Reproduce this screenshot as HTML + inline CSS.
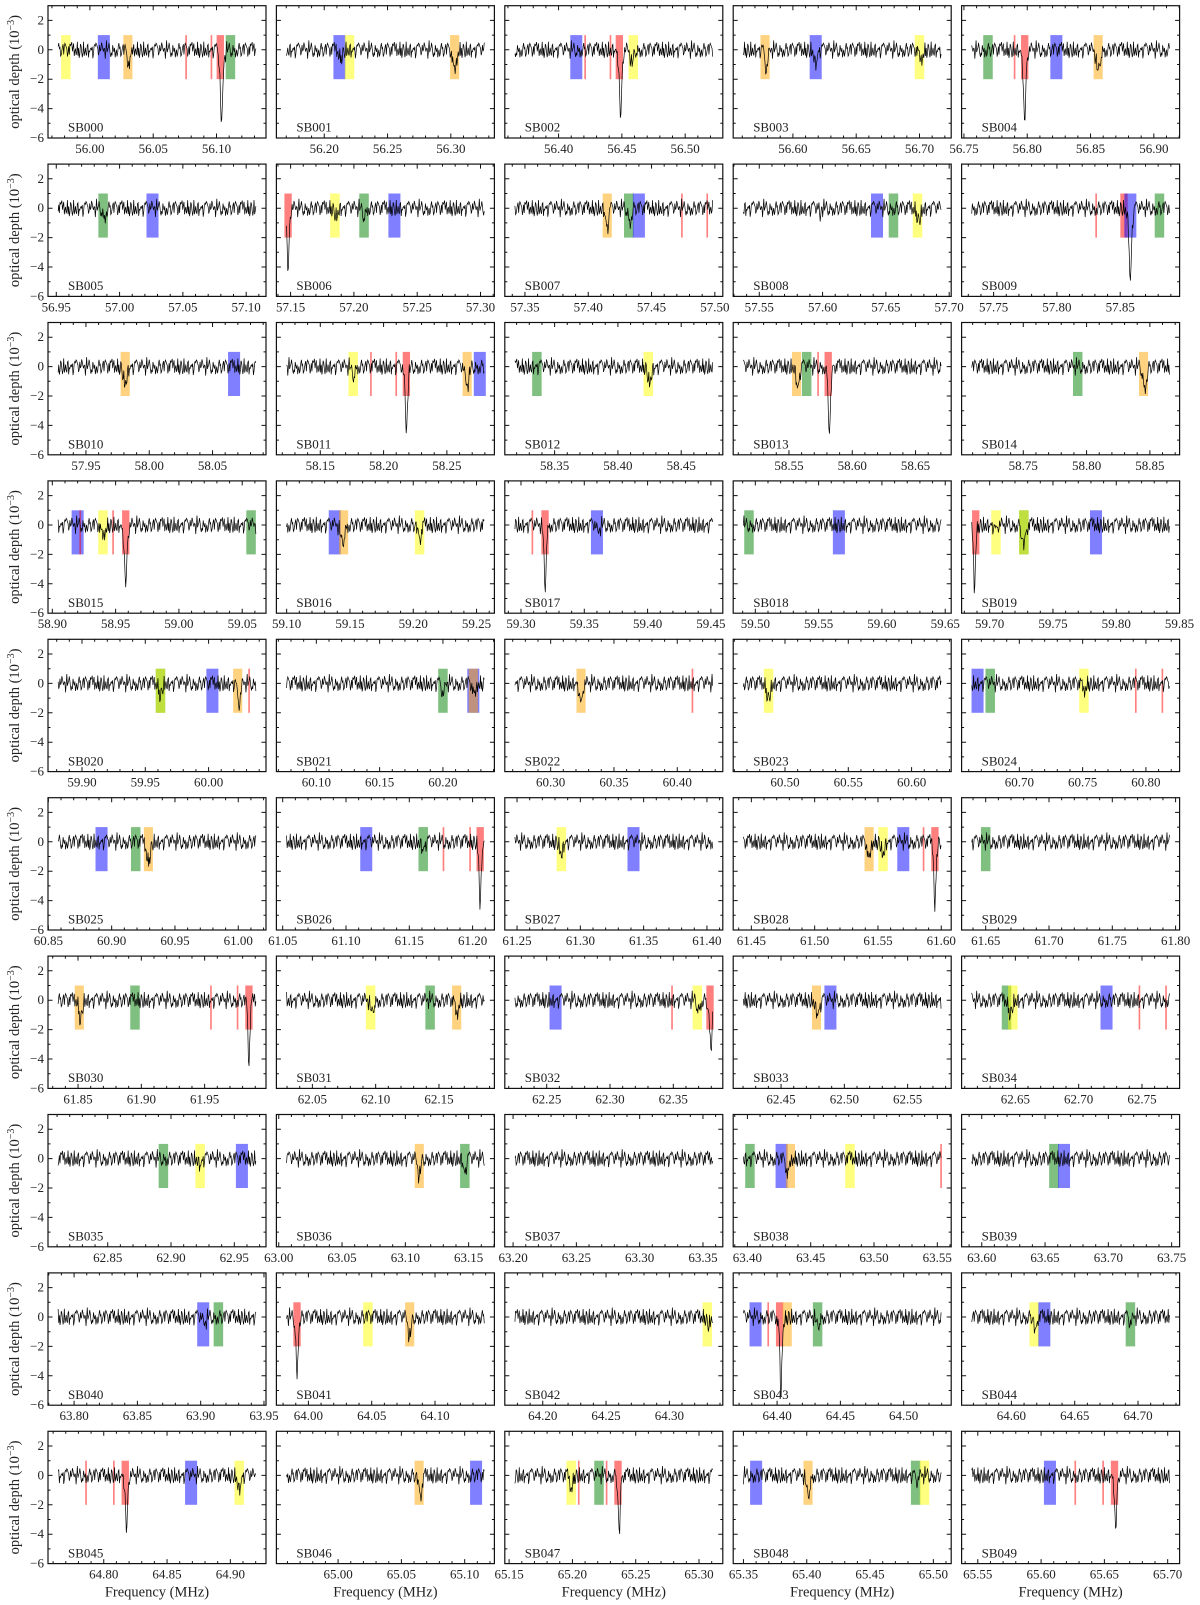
<!DOCTYPE html>
<html><head><meta charset="utf-8"><style>
html,body{margin:0;padding:0;background:#fff;}
svg{display:block;font-family:"Liberation Serif",serif;}
</style></head><body>
<svg id="chart" width="1200" height="1605" viewBox="0 0 1200 1605" xmlns="http://www.w3.org/2000/svg"></svg>
<script>
// ---- data ----
const subbandNames = Array.from({length:50},(_,k)=>'SB'+String(k).padStart(3,'0'));
const firstCenterMHz = 56.053;
const subbandStepMHz = 0.1953125;
const yTicks = [2,0,-2,-4,-6];
const bands = [
[[55.981,'y'],[56.011,'b'],[56.030,'o'],[56.076,'r1'],[56.096,'r1'],[56.103,'r'],[56.111,'g']],
[[56.212,'b'],[56.220,'y'],[56.303,'o']],
[[56.414,'b'],[56.421,'r1'],[56.441,'r1'],[56.448,'r'],[56.459,'y']],
[[56.578,'o'],[56.618,'b'],[56.700,'y']],
[[56.769,'g'],[56.790,'r1'],[56.798,'r'],[56.823,'b'],[56.856,'o']],
[[56.987,'g'],[57.026,'b']],
[[57.148,'r'],[57.185,'y'],[57.208,'g'],[57.232,'b']],
[[57.415,'o'],[57.432,'g'],[57.440,'b'],[57.474,'r1'],[57.494,'r1']],
[[57.643,'b'],[57.656,'g'],[57.675,'y']],
[[57.831,'r1'],[57.853,'r'],[57.858,'b'],[57.881,'g']],
[[57.981,'o'],[58.067,'b']],
[[58.176,'y'],[58.190,'r1'],[58.210,'r1'],[58.218,'r'],[58.266,'o'],[58.276,'b']],
[[58.336,'g'],[58.424,'y']],
[[58.556,'o'],[58.564,'g'],[58.573,'r1'],[58.581,'r']],
[[58.793,'g'],[58.845,'o']],
[[58.920,'b'],[58.922,'r1'],[58.940,'y'],[58.948,'r1'],[58.958,'r'],[59.057,'g']],
[[59.138,'b'],[59.145,'o'],[59.205,'y']],
[[59.309,'r1'],[59.319,'r'],[59.360,'b']],
[[59.495,'g'],[59.566,'b']],
[[59.689,'r'],[59.705,'y'],[59.727,'g'],[59.727,'y'],[59.784,'b']],
[[59.962,'g'],[59.962,'y'],[60.003,'b'],[60.023,'o'],[60.032,'r1']],
[[60.200,'g'],[60.224,'b'],[60.224,'o']],
[[60.324,'o'],[60.412,'r1']],
[[60.487,'y']],
[[60.667,'b'],[60.677,'g'],[60.751,'y'],[60.792,'r1'],[60.813,'r1']],
[[60.892,'b'],[60.919,'g'],[60.929,'o']],
[[61.116,'b'],[61.161,'g'],[61.177,'r1'],[61.198,'r1'],[61.206,'r']],
[[61.285,'y'],[61.342,'b']],
[[61.543,'o'],[61.554,'y'],[61.570,'b'],[61.586,'r1'],[61.595,'r']],
[[61.650,'g']],
[[61.851,'o'],[61.895,'g'],[61.955,'r1'],[61.976,'r1'],[61.985,'r']],
[[62.096,'y'],[62.143,'g'],[62.164,'o']],
[[62.257,'b'],[62.349,'r1'],[62.369,'y'],[62.379,'r']],
[[62.478,'o'],[62.489,'b']],
[[62.643,'g'],[62.648,'y'],[62.722,'b'],[62.748,'r1'],[62.769,'r1']],
[[62.894,'g'],[62.923,'y'],[62.956,'b']],
[[63.111,'o'],[63.147,'g']],
[],
[[63.402,'g'],[63.427,'b'],[63.434,'o'],[63.481,'y'],[63.553,'r1']],
[[63.657,'g'],[63.665,'b']],
[[63.902,'b'],[63.914,'g']],
[[63.991,'r'],[64.047,'y'],[64.080,'o']],
[[64.330,'y']],
[[64.383,'b'],[64.393,'r1'],[64.402,'r'],[64.408,'o'],[64.432,'g']],
[[64.618,'y'],[64.626,'b'],[64.694,'g']],
[[64.786,'r1'],[64.808,'r1'],[64.817,'r'],[64.869,'b'],[64.907,'y']],
[[65.064,'o'],[65.109,'b']],
[[65.199,'y'],[65.205,'r1'],[65.221,'g'],[65.227,'r1'],[65.236,'r']],
[[65.360,'b'],[65.401,'o'],[65.486,'g'],[65.493,'y']],
[[65.607,'b'],[65.627,'r1'],[65.649,'r1'],[65.658,'r']]
];
const dips = [
[[56.031,-1.0,.0015],[56.104,-2.0,.0015],[56.104,-3.3,.0007]],
[[56.303,-1.6,.0014],[56.213,-0.5,.0015]],
[[56.449,-1.5,.0015],[56.449,-3.6,.0007],[56.458,-1.0,.0012]],
[[56.579,-1.4,.0012],[56.618,-0.9,.0012],[56.701,-0.8,.0014]],
[[56.798,-1.8,.0015],[56.798,-3.5,.0007],[56.856,-1.5,.0014]],
[[56.988,-0.6,.0012]],
[[57.148,-1.8,.0012],[57.148,-3.0,.0006],[57.186,-0.5,.0012],[57.208,-0.5,.0012]],
[[57.415,-1.3,.0012],[57.433,-0.9,.0012]],
[[57.676,-0.8,.0014],[57.598,-1.0,.0004]],
[[57.858,-1.8,.0015],[57.858,-3.2,.0007]],
[[57.981,-1.1,.0014]],
[[58.218,-1.5,.0015],[58.218,-3.0,.0007],[58.266,-1.3,.0015],[58.176,-0.6,.0012]],
[[58.425,-1.0,.0014]],
[[58.557,-1.4,.0012],[58.582,-1.6,.0015],[58.582,-2.9,.0007]],
[[58.846,-1.4,.0014]],
[[58.940,-0.9,.0015],[58.958,-1.8,.0015],[58.958,-2.7,.0007]],
[[59.144,-1.2,.0015],[59.205,-1.0,.0014]],
[[59.319,-1.6,.0012],[59.319,-2.9,.0006],[59.361,-0.5,.0012]],
[],
[[59.688,-1.6,.0012],[59.688,-2.8,.0006],[59.727,-1.4,.0015],[59.705,-0.5,.0012]],
[[59.962,-0.8,.0012],[60.024,-1.5,.0012]],
[[60.200,-0.8,.0012],[60.225,-1.0,.0012]],
[[60.324,-1.6,.0012]],
[[60.487,-1.0,.0014]],
[[60.751,-0.6,.0012]],
[[60.929,-1.3,.0015]],
[[61.206,-1.6,.0012],[61.206,-2.8,.0006],[61.161,-0.5,.0012]],
[[61.285,-0.8,.0012]],
[[61.543,-1.4,.0012],[61.554,-0.8,.0012],[61.595,-1.6,.0012],[61.595,-3.0,.0006]],
[],
[[61.852,-1.3,.0012],[61.985,-1.6,.0012],[61.985,-2.7,.0006]],
[[62.097,-0.9,.0012],[62.164,-1.1,.0012]],
[[62.379,-1.6,.0012],[62.380,-2.8,.0006],[62.370,-0.6,.0012]],
[[62.479,-0.9,.0015]],
[[62.646,-0.9,.0014]],
[[62.923,-0.4,.0012]],
[[63.111,-1.2,.0012],[63.147,-1.0,.001]],
[],
[[63.432,-1.1,.0015]],
[],
[[63.903,-0.5,.0012]],
[[63.991,-1.5,.0012],[63.991,-2.6,.0006],[64.080,-1.4,.0012]],
[[64.331,-0.5,.0012]],
[[64.403,-1.6,.0015],[64.403,-4.2,.0006],[64.432,-0.6,.0012]],
[[64.619,-1.2,.001],[64.694,-0.5,.0012]],
[[64.818,-1.6,.0012],[64.818,-2.7,.0006],[64.907,-0.9,.0012]],
[[65.065,-1.4,.0014]],
[[65.199,-0.9,.0012],[65.237,-1.6,.0012],[65.237,-2.5,.0006]],
[[65.401,-1.3,.0014],[65.487,-0.5,.0012]],
[[65.659,-1.6,.0012],[65.659,-2.5,.0006]]
];
const noise = [0.21,-0.35,0.12,0.44,-0.18,-0.52,0.08,0.31,-0.27,0.15,-0.09,0.38,-0.41,0.02,0.26,-0.33,0.47,-0.14,-0.06,0.29,-0.48,0.19,0.05,-0.22,0.36,-0.11,0.53,-0.3,0.1,-0.39,0.24,0.07,-0.17,0.42,-0.58,0.13,0.32,-0.04,-0.26,0.18,0.61,-0.37,0.09,-0.15,0.28,-0.44,0.03,0.35,-0.2,0.14,-0.5,0.22,0.45,-0.08,-0.31,0.16,-0.12,0.39,-0.25,0.06,0.27,-0.46,0.11,0.34,-0.19,-0.03,0.5,-0.36,0.2,-0.1,0.3,-0.55,0.17,0.04,-0.28,0.41,-0.13,0.23,-0.4,0.12,0.33,-0.07,-0.49,0.25,0.08,-0.21,0.43,-0.34,0.01,0.37,-0.16,-0.43,0.2,0.52,-0.24,0.1,-0.38];

// ---- style / layout ----
const bandColor = {y:'#ffff00',b:'#0000ff',g:'#008000',o:'#ffa500',r:'#ff0000',r1:'#ff0000'};
const bandWidth = {y:.0075,b:.0095,g:.0075,o:.0072,r:.0058,r1:.0013};
const NS='http://www.w3.org/2000/svg';
const svg=document.getElementById('chart');
const colLeft0=48, colStep=228.4, pw=218, rowTop0=5.7, rowStep=158.4, ph=132.3;
const halfData=0.0781, halfLim=0.0861, yMax=3, yMin=-6;
function mk(tag,attrs,parent){const e=document.createElementNS(NS,tag);for(const k in attrs)e.setAttribute(k,attrs[k]);(parent||svg).appendChild(e);return e;}

for(let k=0;k<50;k++){
  const col=k%5,row=Math.floor(k/5);
  const L=colLeft0+col*colStep, T=rowTop0+row*rowStep, R=L+pw, B=T+ph;
  const c=firstCenterMHz+k*subbandStepMHz, xmin=c-halfLim, xmax=c+halfLim;
  const X=f=>L+(f-xmin)/(xmax-xmin)*pw;
  const Y=v=>T+(yMax-v)/(yMax-yMin)*ph;
  const g=mk('g',{});
  
  
  const cp=mk('clipPath',{id:'cp'+k},g);
  mk('rect',{x:L,y:T,width:pw,height:ph},cp);
  bands[k].forEach(bd=>{
    const w=bandWidth[bd[1]];
    const r=mk('rect',{x:X(bd[0]-w/2),y:Y(1),width:X(bd[0]+w/2)-X(bd[0]-w/2),height:Y(-2)-Y(1),fill:bandColor[bd[1]],'fill-opacity':0.5},g);
    
    
  });
  const N=320, pts=[];
  for(let i=0;i<N;i++){
    const f=c-halfData+2*halfData*i/(N-1);
    let v=noise[(i*3+k*29)%noise.length]*1.05;
    dips[k].forEach(d=>{v+=d[1]*Math.exp(-0.5*Math.pow((f-d[0])/d[2],2));});
    pts.push(X(f).toFixed(2)+','+Y(v).toFixed(2));
  }
  const pl=mk('polyline',{points:pts.join(' '),fill:'none',stroke:'#000','stroke-width':0.7,'clip-path':'url(#cp'+k+')'},g);
  
  
  const fr=mk('rect',{x:L,y:T,width:pw,height:ph,fill:'none',stroke:'#111','stroke-width':1.2},g);
  
  
  let tp='';
  for(let m=Math.ceil(xmin*100);m<=Math.floor(xmax*100);m++){
    const x=X(m/100), major=m%5===0, len=major?4.5:2.5;
    tp+=`M${x},${B}v${-len}M${x},${T}v${len}`;
    if(major){
      const t=mk('text',{x:x,y:B+15,'font-size':13,'text-anchor':'middle',fill:'#222'},g);
      
      
      t.textContent=(m/100).toFixed(2);
    }
  }
  for(let v=-5;v<=2;v++){
    const y=Y(v), len=(v%2===0)?4.5:2.5;
    tp+=`M${L},${y}h${len}M${R},${y}h${-len}`;
  }
  const tk=mk('path',{d:tp,stroke:'#111','stroke-width':1,fill:'none'},g);
  
  
  if(col===0){
    yTicks.forEach(v=>{
      const t=mk('text',{x:L-4,y:Y(v)+4,'font-size':13,'text-anchor':'end',fill:'#222'},g);
      
      
      t.textContent=(v<0?'\u2212'+(-v):String(v));
    });
    const yl=mk('text',{x:0,y:0,'font-size':14.5,'text-anchor':'middle',fill:'#222',transform:`translate(19,${(T+B)/2}) rotate(-90)`},g);
    
    
    yl.innerHTML='optical depth (10<tspan dy="-5" font-size="10">\u22123</tspan><tspan dy="5">)</tspan>';
  }
  const sb=mk('text',{x:L+20,y:Y(-5.3)+4,'font-size':13,fill:'#222'},g);
  
  
  sb.textContent=subbandNames[k];
  if(row===9){
    const xl=mk('text',{x:L+pw/2,y:B+33,'font-size':14.5,'text-anchor':'middle',fill:'#222'},g);
    
    
    xl.textContent='Frequency (MHz)';
  }
}
</script>
</body></html>
